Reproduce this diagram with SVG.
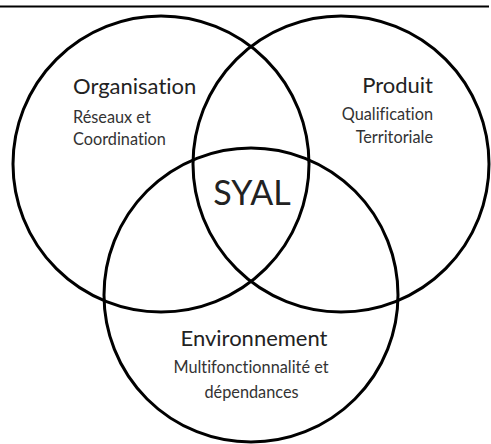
<svg xmlns="http://www.w3.org/2000/svg" width="491" height="444" viewBox="0 0 491 444">
<style>
.c{fill:none;stroke:#000;stroke-width:3}
.t{font-family:Lato,"Liberation Sans",sans-serif;fill:#222;font-variant-ligatures:none}
.h{font-size:22px}
.s{font-size:16.3px;fill:#333}
</style>
<rect width="491" height="444" fill="#fff"/>
<line x1="0" y1="6.5" x2="489" y2="6.5" stroke="#000" stroke-width="2"/>
<g id="organisation">
<circle class="c" cx="161" cy="164" r="148"/>
<text class="t h" x="73" y="94">Organisation</text>
<text class="t s" x="73" y="123">Réseaux et</text>
<text class="t s" x="73" y="145">Coordination</text>
</g>
<g id="produit">
<circle class="c" cx="341" cy="164" r="148"/>
<text class="t h" x="433" y="93" text-anchor="end">Produit</text>
<text class="t s" x="433" y="120" text-anchor="end">Qualification</text>
<text class="t s" x="433" y="143" text-anchor="end">Territoriale</text>
</g>
<g id="environnement">
<circle class="c" cx="251" cy="295" r="147"/>
<text class="t h" x="254" y="346" text-anchor="middle">Environnement</text>
<text class="t s" x="251" y="373" text-anchor="middle">Multifonctionnalité et</text>
<text class="t s" x="251.5" y="398" text-anchor="middle">dépendances</text>
</g>
<g id="syal">
<text class="t" x="252" y="205" font-size="34" text-anchor="middle">SYAL</text>
</g>
</svg>
